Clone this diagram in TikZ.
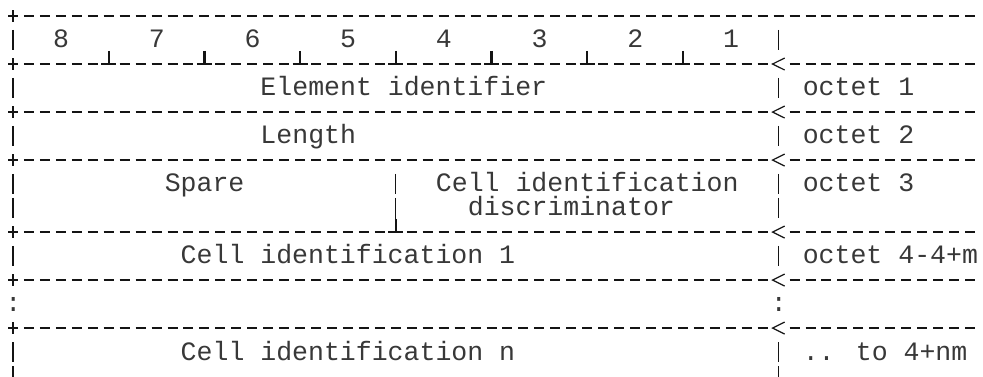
\documentclass[tikz,border=0pt]{standalone}
\usepackage{fontspec}
\usepackage{tikz}
\usetikzlibrary{positioning}
\newfontfamily\asciifont{Liberation Mono}
\definecolor{inkgray}{rgb}{0.08,0.08,0.08}

\begin{document}
\begin{tikzpicture}[line cap=butt, line join=miter, x=11.96pt, y=-18pt,
  cell/.style={font=\asciifont\fontsize{19.9pt}{24pt}\selectfont, inner sep=0pt, anchor=base west, text=inkgray!85},
  rule/.style={line width=0.9pt, dash pattern=on 7.5pt off 4.46pt, color=inkgray},
  bar/.style={line width=0.9pt, color=inkgray},
  tack/.style={line width=1.7pt, color=inkgray}]
\useasboundingbox (-0.815,-0.667) rectangle (60.815,15);
% dashed rules
\draw [rule] (0.6865,0) -- (60.3135,0);
\draw [rule] (0.6865,2) -- (47.3135,2) (48.6865,2) -- (60.3135,2);
\draw [rule] (0.6865,4) -- (47.3135,4) (48.6865,4) -- (60.3135,4);
\draw [rule] (0.6865,6) -- (47.3135,6) (48.6865,6) -- (60.3135,6);
\draw [rule] (0.6865,9) -- (47.3135,9) (48.6865,9) -- (60.3135,9);
\draw [rule] (0.6865,11) -- (47.3135,11) (48.6865,11) -- (60.3135,11);
\draw [rule] (0.6865,13) -- (47.3135,13) (48.6865,13) -- (60.3135,13);
% corner marks
\draw [bar] (-0.31,0) -- (0.31,0) (0,-0.25) -- (0,0.25);
\draw [bar] (-0.31,2) -- (0.31,2) (0,1.75) -- (0,2.25);
\draw [bar] (-0.31,4) -- (0.31,4) (0,3.75) -- (0,4.25);
\draw [bar] (-0.31,6) -- (0.31,6) (0,5.75) -- (0,6.25);
\draw [bar] (-0.31,9) -- (0.31,9) (0,8.75) -- (0,9.25);
\draw [bar] (-0.31,11) -- (0.31,11) (0,10.75) -- (0,11.25);
\draw [bar] (-0.31,13) -- (0.31,13) (0,12.75) -- (0,13.25);
% octet pointers
\draw [bar] (48.38,1.75) -- (47.62,2) -- (48.38,2.25);
\draw [bar] (48.38,3.75) -- (47.62,4) -- (48.38,4.25);
\draw [bar] (48.38,5.75) -- (47.62,6) -- (48.38,6.25);
\draw [bar] (48.38,8.75) -- (47.62,9) -- (48.38,9.25);
\draw [bar] (48.38,10.75) -- (47.62,11) -- (48.38,11.25);
\draw [bar] (48.38,12.75) -- (47.62,13) -- (48.38,13.25);
% bit boundaries
\draw [tack] (5.53,2) -- (6.47,2) (6,1.45) -- (6,2);
\draw [tack] (11.53,2) -- (12.47,2) (12,1.45) -- (12,2);
\draw [tack] (17.53,2) -- (18.47,2) (18,1.45) -- (18,2);
\draw [tack] (23.53,2) -- (24.47,2) (24,1.45) -- (24,2);
\draw [tack] (29.53,2) -- (30.47,2) (30,1.45) -- (30,2);
\draw [tack] (35.53,2) -- (36.47,2) (36,1.45) -- (36,2);
\draw [tack] (41.53,2) -- (42.47,2) (42,1.45) -- (42,2);
\draw [tack] (23.53,9) -- (24.47,9) (24,8.45) -- (24,9);
% vertical bars
\draw [bar] (0,0.58) -- (0,1.42) (48,0.58) -- (48,1.42);
\draw [bar] (0,2.58) -- (0,3.42) (48,2.58) -- (48,3.42);
\draw [bar] (0,4.58) -- (0,5.42) (48,4.58) -- (48,5.42);
\draw [bar] (0,6.58) -- (0,7.42) (24,6.58) -- (24,7.42) (48,6.58) -- (48,7.42);
\draw [bar] (0,7.58) -- (0,8.42) (24,7.58) -- (24,8.45) (48,7.58) -- (48,8.42);
\draw [bar] (0,9.58) -- (0,10.42) (48,9.58) -- (48,10.42);
\draw [bar] (0,13.58) -- (0,14.42) (48,13.58) -- (48,14.42);
\draw [bar] (0,14.58) -- (0,15.42) (48,14.58) -- (48,15.42);
% bit numbers
\node [cell] (bit8) at (2.5,1.33) {8};
\node [cell] (bit7) at (8.5,1.33) {7};
\node [cell] (bit6) at (14.5,1.33) {6};
\node [cell] (bit5) at (20.5,1.33) {5};
\node [cell] (bit4) at (26.5,1.33) {4};
\node [cell] (bit3) at (32.5,1.33) {3};
\node [cell] (bit2) at (38.5,1.33) {2};
\node [cell] (bit1) at (44.5,1.33) {1};
% fields
\node [cell] (elemid) at (15.5,3.33) {Element identifier};
\node [cell] (length) at (15.5,5.33) {Length};
\node [cell] (spare) at (9.5,7.33) {Spare};
\node [cell] (discr1) at (26.5,7.33) {Cell identification};
\node [cell] (discr2) at (28.5,8.33) {discriminator};
\node [cell] (cellid1) at (10.5,10.33) {Cell identification 1};
\node [cell] (dotsl) at (-0.5,12.33) {:};
\node [cell] (dotsr) at (47.5,12.33) {:};
\node [cell] (cellidn) at (10.5,14.33) {Cell identification n};
% octet labels
\node [cell] (oct1) at (49.5,3.33) {octet 1};
\node [cell] (oct2) at (49.5,5.33) {octet 2};
\node [cell] (oct3) at (49.5,7.33) {octet 3};
\node [cell] (oct4) at (49.5,10.33) {octet 4-4+m};
\node [cell] (octn) at (49.5,14.33) {.. to 4+nm};
\end{tikzpicture}
\end{document}
